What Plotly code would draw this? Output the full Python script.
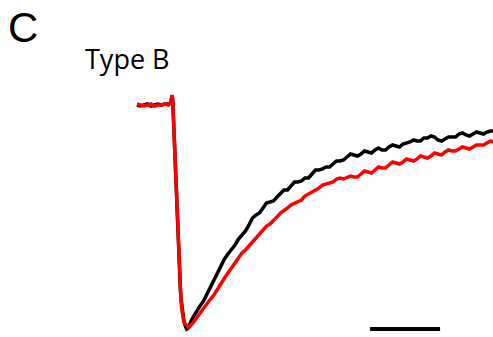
import plotly.graph_objects as go

# time (ms) relative to stimulus onset
time_ms = [-50, -45, -40, -35, -30, -25, -20, -15, -10, -5, -2, -1,
           0, 1, 2, 3, 4, 5, 6, 7, 8, 9, 10, 11, 12, 13, 14, 15,
           17, 19, 21, 23, 25, 28, 31, 35, 40, 45, 50, 55, 60, 65, 70, 75,
           80, 85, 90, 95, 100, 105, 110, 115, 120, 125, 130, 135, 140, 145, 150, 155,
           160, 165, 170, 175, 180, 185, 190, 195, 200, 205, 210, 215, 220, 225, 230, 235,
           240, 245, 250, 255, 260, 265, 270, 275, 280, 285, 290, 295, 300, 305, 310, 315,
           320, 325, 330, 335, 340, 345, 350, 355, 360, 365, 370, 375, 380, 385, 390, 395,
           400, 405, 410, 415, 420, 425, 430, 435, 440, 445, 450, 455, 460]

# current (pA), control (black)
black_pA = [0, -2, 0, 2, -2, 0, 2, 0, 2, 2, 4, 10,
            18, 12, -26, -56, -100, -140, -182, -224, -260, -294, -326, -350, -370, -388, -402, -414,
            -432, -442, -448, -446, -438, -430, -422, -412, -402, -392, -378, -364, -348, -334, -322, -308,
            -298, -290, -280, -268, -260, -252, -240, -226, -220, -216, -206, -196, -194, -192, -184, -176,
            -170, -170, -162, -154, -154, -152, -146, -146, -138, -130, -130, -128, -124, -124, -118, -112,
            -112, -110, -104, -98, -100, -102, -98, -92, -94, -96, -90, -86, -90, -90, -84, -80,
            -82, -84, -78, -76, -74, -70, -72, -72, -66, -66, -62, -64, -70, -72, -68, -64,
            -64, -64, -58, -56, -60, -62, -58, -54, -56, -58, -54, -52, -52]

# current (pA), second condition (red)
red_pA = [2, 0, -2, 0, 2, -2, 0, 0, 2, 0, 4, 12,
          20, 10, -24, -54, -98, -140, -184, -228, -266, -300, -330, -356, -376, -394, -408, -420,
          -434, -438, -442, -444, -444, -440, -434, -426, -416, -408, -398, -388, -380, -368, -358, -346,
          -336, -326, -316, -304, -296, -290, -282, -272, -266, -258, -250, -242, -238, -232, -224, -216,
          -212, -206, -200, -196, -194, -190, -182, -178, -176, -172, -166, -160, -158, -156, -154, -148,
          -146, -148, -144, -142, -144, -144, -138, -132, -134, -136, -130, -124, -126, -126, -120, -114,
          -116, -118, -114, -108, -110, -112, -108, -102, -104, -106, -102, -96, -98, -100, -94, -90,
          -92, -92, -88, -84, -86, -88, -84, -80, -80, -80, -76, -72, -74]

# scale bar: 100 ms
scale_ms = 100
scale_start_ms = 283
scale_level_pA = -448

assert len(time_ms) == len(black_pA) == len(red_pA)

fig = go.Figure()
fig.add_trace(go.Scatter(x=time_ms, y=black_pA, mode="lines",
                         line=dict(color="black", width=3.5), hoverinfo="skip"))
fig.add_trace(go.Scatter(x=time_ms, y=red_pA, mode="lines",
                         line=dict(color="#ff0000", width=3.5), hoverinfo="skip"))
fig.add_trace(go.Scatter(x=[scale_start_ms, scale_start_ms + scale_ms],
                         y=[scale_level_pA, scale_level_pA], mode="lines",
                         line=dict(color="black", width=4), hoverinfo="skip"))

fig.add_annotation(text="C", xref="paper", yref="paper", x=23 / 493, y=1 - 28 / 337,
                   xanchor="center", yanchor="middle", showarrow=False,
                   font=dict(family="Liberation Sans", size=42, color="black"))
fig.add_annotation(text="Type B", xref="paper", yref="paper", x=127.5 / 493, y=1 - 59 / 337,
                   xanchor="center", yanchor="middle", showarrow=False,
                   font=dict(family="Open Sans", size=27, color="black"))

fig.update_layout(width=493, height=337, margin=dict(l=0, r=0, t=0, b=0),
                  paper_bgcolor="white", plot_bgcolor="white", showlegend=False,
                  xaxis=dict(range=[-245.7, 458.6], visible=False, fixedrange=True),
                  yaxis=dict(range=[-464, 210], visible=False, fixedrange=True))
fig.write_html("out.html", config={"displayModeBar": False},
               post_script="document.body.style.margin='0';document.body.style.overflow='hidden';")
